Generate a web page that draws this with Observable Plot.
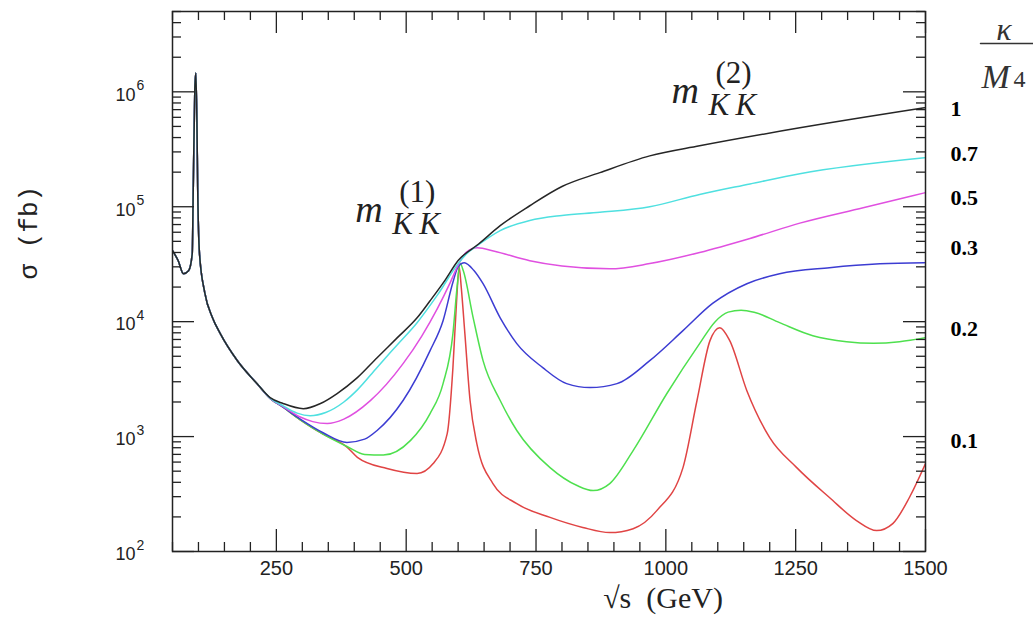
<!DOCTYPE html>
<html><head><meta charset="utf-8">
<script src="https://cdn.jsdelivr.net/npm/d3@7"></script>
<script src="https://cdn.jsdelivr.net/npm/@observablehq/plot@0.6"></script>
<style>
body{margin:0;background:#fff;}
#wrap{width:1033px;height:625px;}
</style></head><body><div id="wrap"></div>
<script>
// ---- data ----
const kappaLabels = ["1", "0.7", "0.5", "0.3", "0.2", "0.1"];
const seriesColors = ["#262626", "#4fe0e0", "#e050e0", "#3c3cd2", "#4ee04e", "#e04444"];

// shared low-energy part (Z pole), identical for all couplings
const sqrtSCommon = [50, 61, 71, 81, 88, 90, 93, 95, 97, 98.5, 102, 112, 127, 142, 175, 213];
const sigmaCommon = [41400, 33900, 26100, 27700, 39000, 146000, 1080000, 1460000, 560000, 146000, 39000, 18000, 10800, 7870, 4570, 2880];

const sqrtS_1 = [238, 263, 302, 335, 367, 406, 444, 483, 521, 546, 575, 600, 640, 681, 738, 800, 873, 969, 1065, 1258, 1498];
const sigma_1 = [2180, 1940, 1750, 1940, 2370, 3260, 4860, 7260, 10800, 15200, 23000, 34000, 47600, 68400, 102000, 150000, 198000, 277000, 339000, 486000, 726000];

const sqrtS_07 = [238, 263, 290, 315, 345, 380, 406, 444, 483, 521, 560, 600, 615, 640, 681, 738, 800, 873, 969, 1065, 1162, 1258, 1498];
const sigma_07 = [2160, 1850, 1600, 1520, 1620, 2000, 2550, 4000, 6300, 9800, 17000, 32000, 38500, 47000, 62000, 76000, 84000, 89500, 100000, 128000, 158000, 194000, 267000];

const sqrtS_05 = [238, 263, 296, 320, 348, 380, 431, 494, 530, 560, 585, 600, 615, 637, 670, 738, 800, 892, 969, 1065, 1162, 1258, 1380, 1498];
const sigma_05 = [2150, 1820, 1480, 1350, 1300, 1420, 2055, 4310, 7500, 13000, 22000, 31000, 40000, 44000, 41000, 33900, 30500, 28800, 32000, 40000, 53000, 72000, 98000, 132000];

const sqrtS_03 = [238, 263, 296, 340, 386, 420, 444, 494, 546, 571, 590, 600, 612, 630, 648, 681, 713, 763, 809, 854, 906, 969, 1033, 1090, 1156, 1219, 1315, 1412, 1498];
const sigma_03 = [2150, 1800, 1420, 1080, 890, 950, 1130, 2060, 5600, 10200, 22000, 30000, 32500, 28000, 21400, 10800, 6440, 3980, 2890, 2670, 2890, 4580, 8350, 14400, 21400, 26100, 29500, 31900, 32600];

const sqrtS_02 = [238, 263, 296, 340, 386, 420, 456, 508, 546, 571, 590, 598, 604, 610, 629, 648, 681, 713, 777, 829, 860, 892, 937, 1002, 1065, 1095, 1120, 1145, 1170, 1219, 1283, 1348, 1400, 1450, 1500];
const sigma_02 = [2150, 1800, 1400, 1050, 820, 700, 690, 922, 1585, 2890, 7870, 20000, 32000, 27700, 10800, 4580, 2060, 1130, 537, 375, 339, 390, 755, 2370, 6440, 10000, 12100, 12600, 12100, 9800, 7550, 6700, 6500, 6700, 7260];

const sqrtS_01 = [238, 263, 296, 340, 386, 406, 463, 521, 552, 579, 590, 597, 602, 606, 613, 623, 636, 667, 713, 777, 840, 892, 937, 983, 1033, 1060, 1085, 1104, 1123, 1156, 1200, 1252, 1315, 1367, 1406, 1437, 1469, 1500];
const sigma_01 = [2150, 1800, 1400, 1050, 810, 660, 527, 477, 582, 1060, 3980, 15000, 30000, 20000, 7870, 2060, 870, 390, 261, 198, 162, 146, 158, 228, 537, 2060, 6840, 8870, 6840, 2510, 980, 537, 295, 186, 152, 175, 295, 582];

// label positions (σ at which each κ/M4 label sits on the right)
const labelSigma = [711000, 289000, 120000, 44000, 8690, 923];

// resonance annotations
const annoSqrtS = [402, 1011];
const annoSigma = [74000, 802000];
const annoIndex = ["(1)", "(2)"];

// axis ticks
const xMajorTicks = [250, 500, 750, 1000, 1250, 1500];
const yDecades = [100, 1000, 10000, 100000, 1000000];
const yExponents = ["2", "3", "4", "5", "6"];

// ---- build table ----
const seriesX = [sqrtS_1, sqrtS_07, sqrtS_05, sqrtS_03, sqrtS_02, sqrtS_01];
const seriesY = [sigma_1, sigma_07, sigma_05, sigma_03, sigma_02, sigma_01];
const rows = [];
for (let i = kappaLabels.length - 1; i >= 0; i--) {
  const k = kappaLabels[i];
  sqrtSCommon.forEach((x, j) => rows.push({k, x, y: sigmaCommon[j]}));
  seriesX[i].forEach((x, j) => rows.push({k, x, y: seriesY[i][j]}));
}

const xMinor = d3.range(50, 1501, 50).filter(v => !xMajorTicks.includes(v));
const yMinor = [];
for (const d of yDecades) for (let m = 2; m <= 9; m++) if (d * m <= 5e6) yMinor.push(d * m);

const W = 1033, H = 625, ML = 172, MR = 108, MT = 11, MB = 74;
const FW = W - ML - MR, FH = H - MT - MB;
const ink = "#222";
const tk = {stroke: ink, strokeWidth: 1.3};
const BIG = 22, SMALL = 9;

const chart = Plot.plot({
  width: W, height: H,
  marginLeft: ML, marginRight: MR, marginTop: MT, marginBottom: MB,
  style: {background: "white", fontFamily: "Liberation Sans"},
  x: {domain: [50, 1500], axis: null},
  y: {type: "log", domain: [100, 5e6], axis: null},
  color: {domain: kappaLabels, range: seriesColors},
  marks: [
    Plot.line(rows, {x: "x", y: "y", z: "k", stroke: "k", strokeWidth: 1.5, curve: "monotone-x", clip: true}),
    Plot.frame({stroke: ink, strokeWidth: 1.5}),
    // inward ticks on all four sides
    Plot.tickY(yDecades, {y: d => d, insetRight: FW - BIG, ...tk}),
    Plot.tickY(yMinor, {y: d => d, insetRight: FW - SMALL, ...tk}),
    Plot.tickY(yDecades, {y: d => d, insetLeft: FW - BIG, ...tk}),
    Plot.tickY(yMinor, {y: d => d, insetLeft: FW - SMALL, ...tk}),
    Plot.tickX(xMajorTicks, {x: d => d, insetTop: FH - BIG, ...tk}),
    Plot.tickX(xMinor, {x: d => d, insetTop: FH - SMALL, ...tk}),
    Plot.tickX(xMajorTicks, {x: d => d, insetBottom: FH - BIG, ...tk}),
    Plot.tickX(xMinor, {x: d => d, insetBottom: FH - SMALL, ...tk}),
    // tick labels
    Plot.text(xMajorTicks, {x: d => d, frameAnchor: "bottom", text: d => String(d), dy: 23, fontSize: 20, fill: ink}),
    Plot.text(yDecades, {y: d => d, frameAnchor: "left", text: () => "10", textAnchor: "end", dx: -37, dy: 3, fontSize: 18, fill: ink}),
    Plot.text(yDecades, {y: d => d, frameAnchor: "left", text: (d, i) => yExponents[i], textAnchor: "start", dx: -36, dy: -6, fontSize: 14, fill: ink}),
    // axis titles
    Plot.text(["√s\u00a0\u00a0(GeV)"], {text: d => d, frameAnchor: "bottom", dx: 114, dy: 56, fontSize: 30, fontFamily: "Liberation Serif", fill: ink}),
    Plot.text(["σ\u00a0(fb)"], {text: d => d, frameAnchor: "left", dx: -144, dy: -2, rotate: -90, fontSize: 26, fontFamily: "Liberation Mono", fill: ink}),
    // κ/M4 labels
    Plot.text(kappaLabels, {y: (d, i) => labelSigma[i], text: d => d, frameAnchor: "right", dx: 25, textAnchor: "start", fontSize: 22, fontWeight: "bold", fontFamily: "Liberation Serif", fill: "#000"}),
    Plot.text(["κ"], {text: d => d, frameAnchor: "top-right", dx: 86, dy: 6, fontSize: 32, fontStyle: "italic", fontFamily: "Liberation Serif", fill: "#333"}),
    Plot.vector([0], {frameAnchor: "top-right", dx: 55, dy: 32, rotate: 90, length: 55, anchor: "start", shape: {draw(ctx, l) { ctx.moveTo(0, 0); ctx.lineTo(0, -l); }}, stroke: "#333", strokeWidth: 1.5}),
    Plot.text(["M"], {text: d => d, frameAnchor: "top-right", dx: 56, dy: 52, textAnchor: "start", fontSize: 34, fontStyle: "italic", fontFamily: "Liberation Serif", fill: "#333"}),
    Plot.text(["4"], {text: d => d, frameAnchor: "top-right", dx: 88, dy: 58, textAnchor: "start", fontSize: 24, fontFamily: "Liberation Serif", fill: "#333"}),
    // resonance annotations
    Plot.text(annoSqrtS, {x: d => d, y: (d, i) => annoSigma[i], text: () => "m", textAnchor: "start", lineAnchor: "bottom", fontSize: 38, fontStyle: "italic", fontFamily: "Liberation Serif", fill: ink}),
    Plot.text(annoSqrtS, {x: d => d, y: (d, i) => annoSigma[i], text: (d, i) => annoIndex[i], textAnchor: "middle", lineAnchor: "bottom", dx: 62, dy: -20, fontSize: 31, fontFamily: "Liberation Serif", fill: ink}),
    Plot.text(annoSqrtS, {x: d => d, y: (d, i) => annoSigma[i], text: () => "K\u2009K", textAnchor: "start", lineAnchor: "bottom", dx: 37, dy: 12, fontSize: 31, fontStyle: "italic", fontFamily: "Liberation Serif", fill: ink})
  ]
});
document.getElementById("wrap").appendChild(chart);
</script></body></html>
